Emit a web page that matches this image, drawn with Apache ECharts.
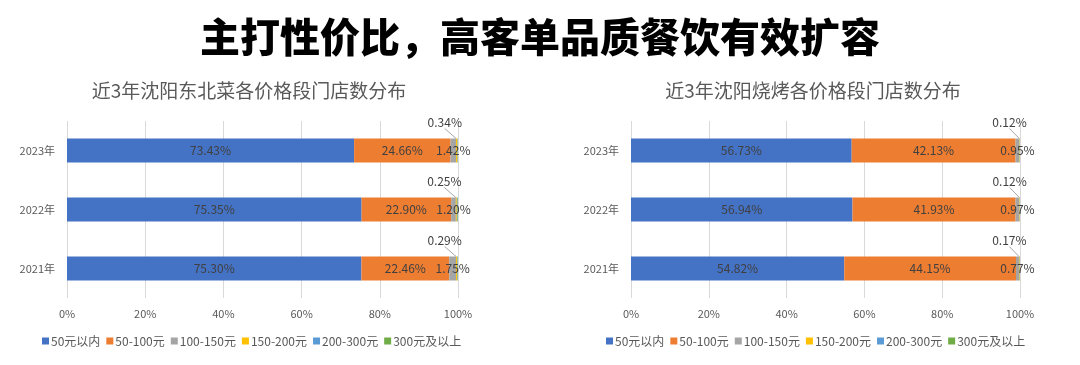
<!DOCTYPE html>
<html>
<head>
<meta charset="utf-8">
<script src="https://cdn.jsdelivr.net/npm/echarts@6/dist/echarts.min.js"></script>
<style>
html,body{margin:0;padding:0;background:#fff;}
#c{width:1080px;height:365px;}
</style>
</head>
<body>
<div id="c"></div>
<script>
const categories = ['2021年', '2022年', '2023年'];
const seriesNames = ['50元以内', '50-100元', '100-150元', '150-200元', '200-300元', '300元及以上'];
const colors = ['#4472C4', '#ED7D31', '#A5A5A5', '#FFC000', '#5B9BD5', '#70AD47'];
const xTicks = [0, 20, 40, 60, 80, 100];

// 沈阳东北菜
const dbUnder50 = [75.30, 75.35, 73.43];
const db50to100 = [22.46, 22.90, 24.66];
const db100to150 = [1.75, 1.20, 1.42];
const db150to200 = [0.29, 0.25, 0.34];
const db200to300 = [0.14, 0.20, 0.10];
const db300plus = [0.06, 0.10, 0.05];

// 沈阳烧烤
const skUnder50 = [54.82, 56.94, 56.73];
const sk50to100 = [44.15, 41.93, 42.13];
const sk100to150 = [0.77, 0.97, 0.95];
const sk150to200 = [0.17, 0.12, 0.12];
const sk200to300 = [0.06, 0.03, 0.05];
const sk300plus = [0.03, 0.01, 0.02];

const mainTitle = '主打性价比，高客单品质餐饮有效扩容';
const leftTitle = '近3年沈阳东北菜各价格段门店数分布';
const rightTitle = '近3年沈阳烧烤各价格段门店数分布';

const FONT = '"Noto Sans CJK SC", "Noto Sans", sans-serif';
const fmt = p => p.value.toFixed(2) + '%';

function makeSeries(dataList, idx, stack, calloutDx) {
  return dataList.map((d, i) => {
    const s = {
      name: seriesNames[i],
      type: 'bar',
      stack: stack,
      xAxisIndex: idx,
      yAxisIndex: idx,
      barWidth: 24,
      data: d,
      itemStyle: { color: colors[i] },
      emphasis: { disabled: true },
      label: { show: false }
    };
    if (i <= 2) {
      s.label = { show: true, position: 'inside', formatter: fmt, color: '#404040', fontSize: 12, fontFamily: FONT };
    } else if (i === 3) {
      s.label = { show: true, position: 'top', distance: 5, formatter: fmt, color: '#404040', fontSize: 12, fontFamily: FONT };
      s.labelLayout = { dx: calloutDx, dy: -5 };
      s.labelLine = { show: true, lineStyle: { color: '#a6a6a6', width: 1 } };
    }
    return s;
  });
}

const axisLabelStyle = { color: '#595959', fontSize: 11, fontFamily: FONT };
const legendBase = { data: seriesNames, top: 335, padding: 0, itemWidth: 7, itemHeight: 7, itemGap: 6, icon: 'rect',
  textStyle: { color: '#595959', fontSize: 12, fontFamily: FONT, padding: [0, 0, 0, -3] } };

const option = {
  animation: false,
  backgroundColor: '#fff',
  title: [
    { text: mainTitle, left: 'center', top: 12, textStyle: { fontSize: 40, fontWeight: 900, color: '#000', fontFamily: FONT } },
    { text: leftTitle, left: 244, textAlign: 'center', top: 76, textStyle: { fontSize: 19, fontWeight: 'normal', color: '#595959', fontFamily: FONT } },
    { text: rightTitle, left: 808, textAlign: 'center', top: 76, textStyle: { fontSize: 19, fontWeight: 'normal', color: '#595959', fontFamily: FONT } }
  ],
  legend: [
    Object.assign({ left: 42 }, legendBase),
    Object.assign({ left: 606 }, legendBase)
  ],
  grid: [
    { left: 67, right: 622, top: 121, height: 177, containLabel: false },
    { left: 631, right: 60, top: 121, height: 177, containLabel: false }
  ],
  xAxis: [0, 1].map(i => ({
    type: 'value', gridIndex: i, min: xTicks[0], max: xTicks[xTicks.length - 1], interval: 20,
    axisLine: { show: false }, axisTick: { show: false },
    splitLine: { show: true, lineStyle: { color: '#d9d9d9', width: 1 } },
    axisLabel: Object.assign({ formatter: '{value}%', margin: 10 }, axisLabelStyle)
  })),
  yAxis: [0, 1].map(i => ({
    type: 'category', gridIndex: i, data: categories,
    axisLine: { show: false }, axisTick: { show: false },
    axisLabel: Object.assign({ margin: 12 }, axisLabelStyle)
  })),
  series: [].concat(
    makeSeries([dbUnder50, db50to100, db100to150, db150to200, db200to300, db300plus], 0, 'db', -12),
    makeSeries([skUnder50, sk50to100, sk100to150, sk150to200, sk200to300, sk300plus], 1, 'sk', -10)
  )
};

const chart = echarts.init(document.getElementById('c'), null, { renderer: 'canvas' });
chart.setOption(option);
</script>
</body>
</html>
